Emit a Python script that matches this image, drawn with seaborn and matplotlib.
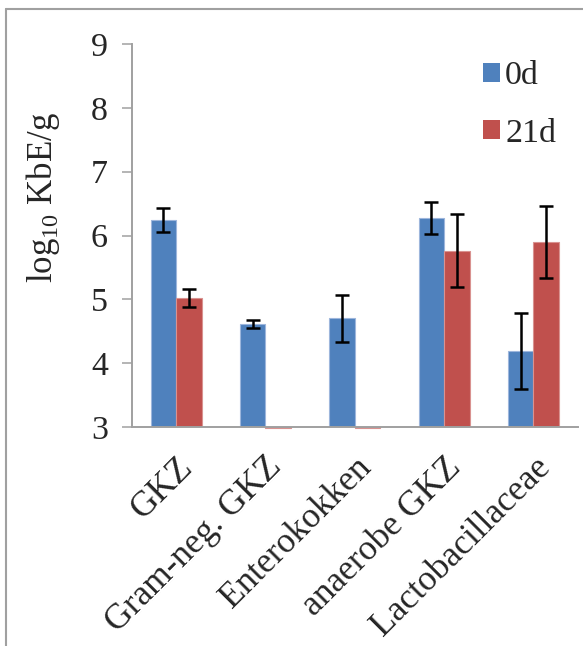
import matplotlib
matplotlib.use("Agg")
import matplotlib.pyplot as plt
import seaborn as sns
import pandas as pd
from matplotlib.lines import Line2D

# Bacterial counts (log10 KbE/g) at day 0 and day 21, with standard deviations
categories = ["GKZ", "Gram-neg. GKZ", "Enterokokken", "anaerobe GKZ", "Lactobacillaceae"]
series = ["0d", "21d"]
values_0d = [6.24, 4.61, 4.70, 6.27, 4.19]
values_21d = [5.02, 2.98, 2.98, 5.76, 5.90]
err_0d = [0.19, 0.06, 0.37, 0.25, 0.59]
err_21d = [0.14, float("nan"), float("nan"), 0.57, 0.56]
yticks = [3, 4, 5, 6, 7, 8, 9]
baseline = 3

sns.set_theme(style="white")
plt.rcParams["font.family"] = ["Liberation Serif", "DejaVu Serif"]
plt.rcParams["mathtext.fontset"] = "custom"
plt.rcParams["mathtext.rm"] = "Liberation Serif"

df = pd.DataFrame({
    "Kategorie": categories * 2,
    "Zeit": [series[0]] * len(categories) + [series[1]] * len(categories),
    "Wert": values_0d + values_21d,
})

fig = plt.figure(figsize=(5.83, 6.46), dpi=100)
ax = fig.add_axes([131.5 / 583, 1 - 427 / 646, (578 - 131.5) / 583, (427 - 44) / 646])

palette = {"0d": "#4F81BD", "21d": "#C0504D"}
edges = {"0d": "#9DB6DC", "21d": "#D99290"}
sns.barplot(data=df, x="Kategorie", y="Wert", hue="Zeit", palette=palette,
            width=0.571, errorbar=None, ax=ax, saturation=1, linewidth=0)

# Bars rise from the axis floor rather than from zero
errs = [err_0d, err_21d]
for cont, name, err in zip(ax.containers, series, errs):
    xs, ys = [], []
    for bar in cont.patches:
        v = bar.get_height()
        bar.set_y(baseline)
        bar.set_height(v - baseline)
        bar.set_edgecolor(edges[name])
        bar.set_linewidth(0.8)
        if v < baseline:
            bar.set_clip_on(False)
        xs.append(bar.get_x() + bar.get_width() / 2)
        ys.append(v)
    ax.errorbar(xs, ys, yerr=err, fmt="none", ecolor="black",
                elinewidth=1.8, capsize=5, capthick=1.8, zorder=5)

ax.set_ylim(3, 9)
ax.set_xlim(-0.5, len(categories) - 0.5)
ax.set_yticks(yticks)
ax.set_yticklabels([str(t) for t in yticks], fontsize=24.5)
ax.set_xticks(range(len(categories)))
ax.set_xticklabels(categories, fontsize=25.5, rotation=45, ha="right",
                   rotation_mode="anchor")
ax.tick_params(axis="x", length=0, pad=17)
ax.tick_params(axis="y", length=7, width=1.1, color="#A0A0A0", direction="out",
               pad=10, left=True)
ax.set_xlabel("")
ax.set_ylabel(r"log$_{\mathregular{10}}$ KbE/g", fontsize=25)
ax.yaxis.set_label_coords(-0.198, 0.60)
ax.yaxis.label.set_verticalalignment("center")

for side in ["top", "right"]:
    ax.spines[side].set_visible(False)
for side in ["left", "bottom"]:
    ax.spines[side].set_color("#A0A0A0")
    ax.spines[side].set_linewidth(1.4)

sns.move_legend(ax, loc="upper left", bbox_to_anchor=(483 / 583, 1 - 61 / 646),
                bbox_transform=fig.transFigure, frameon=False, title=None,
                fontsize=24.5, handlelength=0.5, handleheight=0.5,
                handletextpad=0.15, labelspacing=0.78, borderpad=0,
                borderaxespad=0)

# Outer chart frame
frame_color = "#A0A0A0"
fig.add_artist(Line2D([6 / 583, 6 / 583], [0, 1 - 9 / 646], transform=fig.transFigure,
                      color=frame_color, linewidth=1.5))
fig.add_artist(Line2D([6 / 583, 1], [1 - 9 / 646, 1 - 9 / 646], transform=fig.transFigure,
                      color=frame_color, linewidth=1.5))

fig.savefig("out.png", dpi=100)
